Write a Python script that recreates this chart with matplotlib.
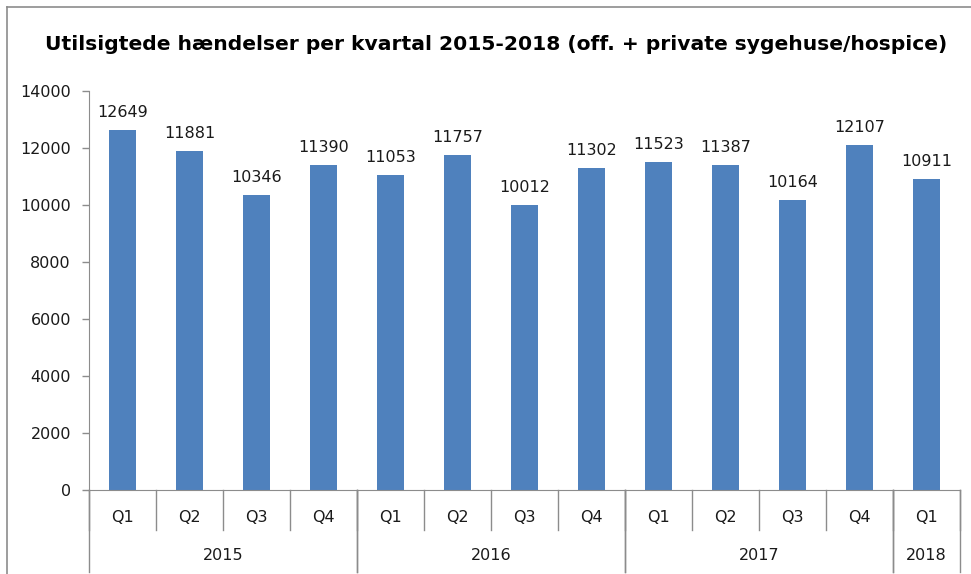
import numpy as np
import matplotlib.pyplot as plt
from matplotlib.lines import Line2D
from matplotlib.transforms import blended_transform_factory

quarters = ['Q1', 'Q2', 'Q3', 'Q4', 'Q1', 'Q2', 'Q3', 'Q4',
            'Q1', 'Q2', 'Q3', 'Q4', 'Q1']
values = [12649, 11881, 10346, 11390, 11053, 11757, 10012, 11302,
          11523, 11387, 10164, 12107, 10911]
years = ['2015', '2016', '2017', '2018']
year_counts = [4, 4, 4, 1]

fig = plt.figure(figsize=(9.71, 5.74), dpi=100)
ax = fig.add_axes([89/971, 1 - 490/574, 871/971, 399/574])

x = np.arange(len(values))
ax.bar(x, values, width=0.4, color='#4F81BD')
for xi, v in zip(x, values):
    ax.text(xi, v + 350, str(v), ha='center', va='bottom', fontsize=11.5, color='#1a1a1a')

ax.set_xlim(-0.5, len(values) - 0.5)
ax.set_ylim(0, 14000)
ax.set_yticks(np.arange(0, 14001, 2000))
ax.tick_params(axis='y', labelsize=11.5, colors='#1a1a1a', length=5, width=1, color='#8c8c8c', pad=8)
ax.set_xticks([])
for s in ['top', 'right']:
    ax.spines[s].set_visible(False)
ax.spines['left'].set_color('#8c8c8c')
ax.spines['bottom'].set_color('#8c8c8c')

# grouped category axis underneath
tr = blended_transform_factory(ax.transData, ax.transAxes)
q_depth = -40 / 399
y_depth = -82 / 399
for xi, q in zip(x, quarters):
    ax.text(xi, -27 / 399, q, transform=tr, ha='center', va='center', fontsize=11.5, color='#1a1a1a')
for b in np.arange(len(values) + 1) - 0.5:
    ax.plot([b, b], [0, q_depth], transform=tr, color='#8c8c8c', lw=1, clip_on=False)
start = 0
for yr, n in zip(years, year_counts):
    left = start - 0.5
    right = start + n - 0.5
    ax.plot([left, left], [0, y_depth], transform=tr, color='#8c8c8c', lw=1, clip_on=False)
    ax.plot([right, right], [0, y_depth], transform=tr, color='#8c8c8c', lw=1, clip_on=False)
    ax.text((left + right) / 2, -66 / 399, yr, transform=tr, ha='center', va='center',
            fontsize=11.5, color='#1a1a1a')
    start += n

fig.text(496/971, 1 - 45/574,
         'Utilsigtede hændelser per kvartal 2015-2018 (off. + private sygehuse/hospice)',
         ha='center', va='center', fontsize=14.6, fontweight='bold', color='black')

# chart frame (left and top edges visible)
fig.add_artist(Line2D([7/971, 7/971], [0, 1 - 7/574], color='#8c8c8c', lw=1.2))
fig.add_artist(Line2D([7/971, 1], [1 - 7/574, 1 - 7/574], color='#8c8c8c', lw=1.2))

fig.savefig('out.png', dpi=100)
